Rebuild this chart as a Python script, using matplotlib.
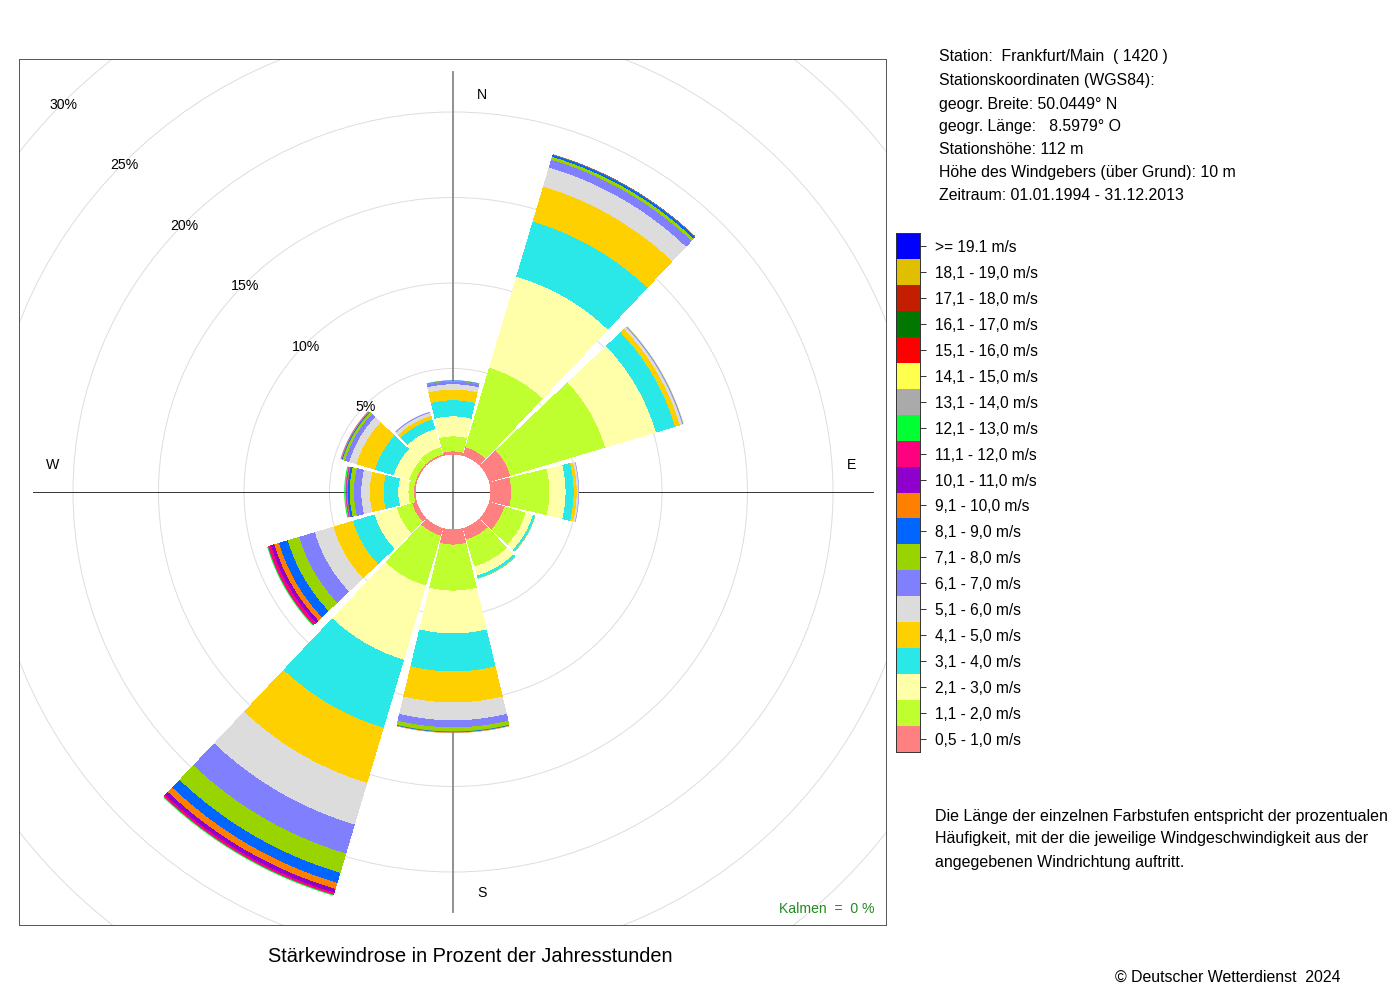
import numpy as np
import matplotlib
matplotlib.use("Agg")
import matplotlib.pyplot as plt
from matplotlib.patches import Circle

plt.rcParams["font.family"] = ["Liberation Sans", "DejaVu Sans"]

# Prozent je Geschwindigkeitsklasse, von 0,5-1,0 m/s aufwaerts
freq_n = [0.18, 0.88, 1.17, 0.94, 0.63, 0.31, 0.13, 0.04, 0.03]
freq_030 = [0.53, 4.85, 5.56, 3.36, 2.13, 1.17, 0.47, 0.18, 0.09, 0.03]
freq_060 = [1.29, 5.79, 3.10, 1.17, 0.29, 0.12, 0.06, 0.02]
freq_090 = [1.21, 2.24, 0.94, 0.47, 0.18, 0.08, 0.03]
freq_120 = [0.94, 1.29, 0.44, 0.09, 0.03]
freq_150 = [0.70, 1.64, 0.56, 0.12, 0.03]
freq_180 = [0.88, 2.69, 2.51, 2.22, 1.81, 1.05, 0.41, 0.22, 0.05, 0.03]
freq_210 = [0.47, 3.04, 4.52, 4.15, 3.36, 2.55, 1.77, 1.18, 0.61, 0.37, 0.23, 0.09, 0.06]
freq_240 = [0.29, 0.94, 1.35, 1.32, 1.20, 1.13, 0.95, 0.70, 0.54, 0.28, 0.20, 0.15, 0.06]
freq_270 = [0.09, 0.32, 0.60, 0.86, 0.80, 0.50, 0.43, 0.25, 0.09, 0.05, 0.04, 0.04, 0.07]
freq_300 = [0.09, 0.38, 0.94, 1.15, 1.13, 0.44, 0.26, 0.12, 0.06, 0.03, 0.02, 0.01]
freq_330 = [0.09, 0.44, 1.11, 0.58, 0.23, 0.15, 0.06]

richtungen = [0, 30, 60, 90, 120, 150, 180, 210, 240, 270, 300, 330]
alle_freq = [freq_n, freq_030, freq_060, freq_090, freq_120, freq_150,
             freq_180, freq_210, freq_240, freq_270, freq_300, freq_330]

klassen = ["0,5 - 1,0 m/s", "1,1 - 2,0 m/s", "2,1 - 3,0 m/s", "3,1 - 4,0 m/s",
           "4,1 - 5,0 m/s", "5,1 - 6,0 m/s", "6,1 - 7,0 m/s", "7,1 - 8,0 m/s",
           "8,1 - 9,0 m/s", "9,1 - 10,0 m/s", "10,1 - 11,0 m/s", "11,1 - 12,0 m/s",
           "12,1 - 13,0 m/s", "13,1 - 14,0 m/s", "14,1 - 15,0 m/s", "15,1 - 16,0 m/s",
           "16,1 - 17,0 m/s", "17,1 - 18,0 m/s", "18,1 - 19,0 m/s", ">= 19.1 m/s"]
farben = ["#FF8080", "#BFFF30", "#FFFFAA", "#2AE8E8", "#FFD000", "#DCDCDC",
          "#8080FF", "#99D400", "#0066FF", "#FF8000", "#9000CC", "#FF007F",
          "#00FF33", "#AAAAAA", "#FFFF4D", "#FF0000", "#007800", "#C41E00",
          "#E0BE00", "#0000FF"]

ringe = [5, 10, 15, 20, 25, 30]

info_zeilen = ["Station:  Frankfurt/Main  ( 1420 )",
               "Stationskoordinaten (WGS84):",
               "geogr. Breite: 50.0449° N",
               "geogr. Länge:   8.5979° O",
               "Stationshöhe: 112 m",
               "Höhe des Windgebers (über Grund): 10 m",
               "Zeitraum: 01.01.1994 - 31.12.2013"]
info_y = [56, 80, 104, 126, 149, 173, 195]
text_zeilen = ["Die Länge der einzelnen Farbstufen entspricht der prozentualen",
               "Häufigkeit, mit der die jeweilige Windgeschwindigkeit aus der",
               "angegebenen Windrichtung auftritt."]
text_y = [816, 838, 862]

B, H = 1400, 1000
CX, CY = 453, 492
PX_PRO_PROZENT = 17.1
R0 = 38 / PX_PRO_PROZENT


def halbwinkel(r):
    return 13.4 + np.degrees(np.arcsin(0.4 / PX_PRO_PROZENT / r))


def band(ax, richtung, r1, r2, farbe):
    w2 = np.radians(richtung + np.linspace(-halbwinkel(r2), halbwinkel(r2), 60))
    w1 = np.radians(richtung + np.linspace(halbwinkel(r1), -halbwinkel(r1), 60))
    x = np.concatenate([r2 * np.sin(w2), r1 * np.sin(w1)])
    y = np.concatenate([r2 * np.cos(w2), r1 * np.cos(w1)])
    # ganz schmale Baender nur angedeutet, sonst volle Pixelreihe
    duenn = (r2 - r1) * PX_PRO_PROZENT < 1.2
    ax.fill(x, y, color=farbe, lw=0, antialiased=bool(duenn), zorder=3)


def px_text(x, y, s, **kw):
    kw.setdefault("va", "center")
    fig.text(x / B, 1 - y / H, s, **kw)


fig = plt.figure(figsize=(14, 10), dpi=100)

links, rechts, oben, unten = 19.2, 886, 59, 925
ax = fig.add_axes([links / B, 1 - unten / H, (rechts - links) / B, (unten - oben) / H])
ax.set_xlim((links - CX) / PX_PRO_PROZENT, (rechts - CX) / PX_PRO_PROZENT)
ax.set_ylim((CY - unten) / PX_PRO_PROZENT, (CY - oben) / PX_PRO_PROZENT)
ax.set_xticks([])
ax.set_yticks([])
for s in ax.spines.values():
    s.set_color("#555555")
    s.set_linewidth(0.7)

ax.add_patch(Circle((0, 0), R0, fill=False, ec="#DDDDDD", lw=0.7, zorder=1))
for p in ringe:
    ax.add_patch(Circle((0, 0), R0 + p, fill=False, ec="#DDDDDD", lw=0.7, zorder=1))
    w = np.radians(315)
    ax.text((R0 + p - 0.12) * np.sin(w) - 0.06, (R0 + p - 0.12) * np.cos(w) - 0.06, f"{p}%",
            fontsize=10.2, ha="center", va="center", zorder=4)

ax.plot([0, 0], [-24.55, 24.55], color="#888888", lw=1.3, zorder=2)
ax.plot([-24.55, 24.55], [0, 0], color="#333333", lw=0.7, zorder=2)

for richtung, freq in zip(richtungen, alle_freq):
    r = R0
    for wert, farbe in zip(freq, farben):
        band(ax, richtung, r, r + wert, farbe)
        r += wert

for s, x, y in [("N", 482, 95), ("S", 482, 893), ("W", 53, 465), ("E", 852, 465)]:
    px_text(x, y, s, fontsize=10.2, ha="center")
px_text(874, 909, "Kalmen  =  0 %", fontsize=10.1, ha="right", color="#228B22")

# Legende
lax = fig.add_axes([896 / B, 1 - 752 / H, 24 / B, 519 / H])
lax.bar(np.zeros(len(farben)), np.ones(len(farben)), width=1,
        bottom=np.arange(len(farben)), color=farben)
lax.set_xlim(-0.5, 0.5)
lax.set_ylim(0, len(farben))
lax.set_xticks([])
lax.yaxis.tick_right()
lax.set_yticks(np.arange(len(farben)) + 0.5)
lax.set_yticklabels(klassen, fontsize=11.2)
lax.tick_params(axis="y", length=4.3, width=0.7, color="#333333", pad=6.3)
for s in lax.spines.values():
    s.set_color("#333333")
    s.set_linewidth(0.7)

for s, y in zip(info_zeilen, info_y):
    px_text(939, y, s, fontsize=11.4)
for s, y in zip(text_zeilen, text_y):
    px_text(935, y, s, fontsize=11.5)

px_text(470.5, 956, "Stärkewindrose in Prozent der Jahresstunden", fontsize=14.4, ha="center")
px_text(1115, 977, "© Deutscher Wetterdienst  2024", fontsize=11.4)

fig.savefig("out.png", dpi=100)
